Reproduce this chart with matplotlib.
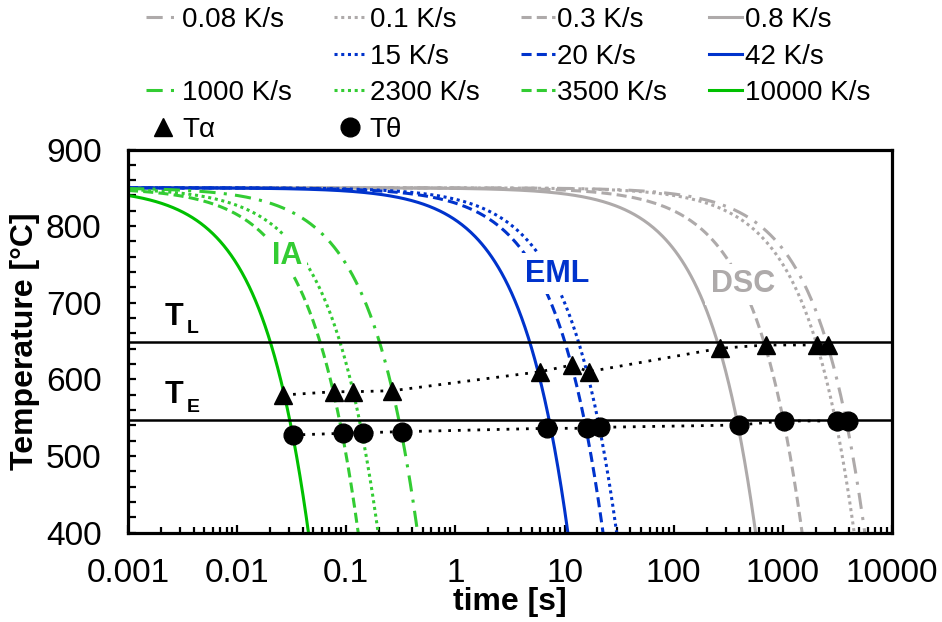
import numpy as np
import matplotlib
matplotlib.use("Agg")
import matplotlib.pyplot as plt
from matplotlib.lines import Line2D
from matplotlib.ticker import FixedLocator, LogLocator, MultipleLocator, NullFormatter

plt.rcParams['font.family'] = ['Liberation Sans', 'DejaVu Sans']

# cooling rates [K/s] per setup
rates_dsc = [0.08, 0.1, 0.3, 0.8]
rates_eml = [15, 20, 42]
rates_ia = [1000, 2300, 3500, 10000]
T_start = 850.0
T_stop = 400.0

T_liq = 649
T_eut = 547

# transformation temperatures (time [s], temperature [C])
t_alpha = [0.0265, 0.0773, 0.116, 0.265, 5.98, 11.7, 16.6, 267, 700, 2053, 2588]
T_alpha = [579.5, 583.8, 583.8, 585.1, 609.9, 618.7, 609.9, 640.5, 644.8, 644.8, 644.8]
t_theta = [0.0323, 0.094, 0.1416, 0.3227, 6.88, 16.0, 20.9, 393, 1030, 3133, 3951]
T_theta = [527.3, 529.5, 530.3, 531.6, 536.0, 536.0, 537.3, 540.3, 545.6, 545.6, 545.6]

xticks = [0.001, 0.01, 0.1, 1, 10, 100, 1000, 10000]
xtick_labels = ['0.001', '0.01', '0.1', '1', '10', '100', '1000', '10000']

gray = '#AEAAAA'
blue = '#0033CC'
green = '#33CC33'
green_solid = '#00C000'

lw = 2.2
dashdot = (0, (5.3, 2.7, 1, 2.7))
dotted = (0, (1, 1.2))
dashed = (0, (3.3, 1.7))
solid = '-'

fig = plt.figure(figsize=(9.42, 6.22), dpi=100)
ax = fig.add_axes([128 / 942, 1 - 532.5 / 622, 764 / 942, 383 / 622])


def cooling(rate):
    t = np.logspace(-3, np.log10((T_start - T_stop) / rate), 400)
    return t, T_start - rate * t


handles = {}
for rate, ls in zip(rates_dsc, [dashdot, dotted, dashed, solid]):
    t, T = cooling(rate)
    handles[rate], = ax.plot(t, T, color=gray, lw=lw, linestyle=ls, zorder=2)
for rate, ls in zip(rates_eml, [dotted, dashed, solid]):
    t, T = cooling(rate)
    handles[rate], = ax.plot(t, T, color=blue, lw=lw, linestyle=ls, zorder=2)
for rate, ls in zip(rates_ia, [dashdot, dotted, dashed, solid]):
    t, T = cooling(rate)
    c = green_solid if ls == solid else green
    handles[rate], = ax.plot(t, T, color=c, lw=lw, linestyle=ls, zorder=2)

ax.axhline(T_liq, color='black', lw=1.8, zorder=3)
ax.axhline(T_eut, color='black', lw=1.8, zorder=3)

ax.plot(t_alpha, T_alpha, color='black', lw=2, linestyle=(0, (1, 2.5)), zorder=5)
ax.plot(t_theta, T_theta, color='black', lw=2, linestyle=(0, (1, 2.5)), zorder=5)
h_alpha, = ax.plot(t_alpha, T_alpha, '^', color='black', ms=13.5, linestyle='none', zorder=6)
h_theta, = ax.plot(t_theta, T_theta, 'o', color='black', ms=13.5, linestyle='none', zorder=6)

box = dict(facecolor='white', edgecolor='none', pad=4)
ax.text(0.0285, 761, 'IA', color=green, fontsize=22, fontweight='bold',
        ha='center', va='center', bbox=box, zorder=4)
ax.text(8.64, 737.6, 'EML', color=blue, fontsize=22, fontweight='bold',
        ha='center', va='center', bbox=box, zorder=4)
ax.text(430, 724, 'DSC', color=gray, fontsize=22, fontweight='bold',
        ha='center', va='center', bbox=box, zorder=4)

ax.text(0.00215, 670.9, 'T', fontsize=22, fontweight='bold', ha='left', va='baseline')
ax.text(0.00345, 660.8, 'L', fontsize=14, fontweight='bold', ha='left', va='baseline')
ax.text(0.00215, 568.7, 'T', fontsize=22, fontweight='bold', ha='left', va='baseline')
ax.text(0.00345, 557.7, 'E', fontsize=14, fontweight='bold', ha='left', va='baseline')

ax.set_xscale('log')
ax.set_xlim(0.001, 10000)
ax.set_ylim(400, 900)
ax.xaxis.set_major_locator(FixedLocator(xticks))
ax.set_xticklabels(xtick_labels)
ax.xaxis.set_minor_locator(LogLocator(base=10, subs=np.arange(2, 10), numticks=20))
ax.xaxis.set_minor_formatter(NullFormatter())
ax.yaxis.set_major_locator(MultipleLocator(100))
ax.yaxis.set_minor_locator(MultipleLocator(20))

ax.tick_params(axis='both', which='both', direction='in', width=1.6, labelsize=24)
ax.tick_params(axis='x', which='major', length=6, pad=18)
ax.tick_params(axis='x', which='minor', length=4)
ax.tick_params(axis='y', which='both', length=6, pad=19)
for s in ax.spines.values():
    s.set_linewidth(2.3)

ax.set_xlabel('time [s]', fontsize=23, fontweight='bold', labelpad=-1)
ax.set_ylabel('Temperature [°C]', fontsize=23, fontweight='bold', labelpad=4)

blank = Line2D([], [], linestyle='none')
leg_handles = [handles[0.08], blank, handles[1000], h_alpha,
               handles[0.1], handles[15], handles[2300], h_theta,
               handles[0.3], handles[20], handles[3500], blank,
               handles[0.8], handles[42], handles[10000], blank]
leg_labels = ['0.08 K/s', '', '1000 K/s', 'Tα',
              '0.1 K/s', '15 K/s', '2300 K/s', 'Tθ',
              '0.3 K/s', '20 K/s', '3500 K/s', '',
              '0.8 K/s', '42 K/s', '10000 K/s', '']
fig.legend(leg_handles, leg_labels, ncol=4, loc='upper left',
           bbox_to_anchor=(146 / 942, 1 - 7 / 622), frameon=False, fontsize=20,
           handlelength=1.2, handletextpad=0.1, columnspacing=1.5,
           labelspacing=0.38, borderpad=0, borderaxespad=0, numpoints=1)

fig.savefig('out.png', dpi=100)
